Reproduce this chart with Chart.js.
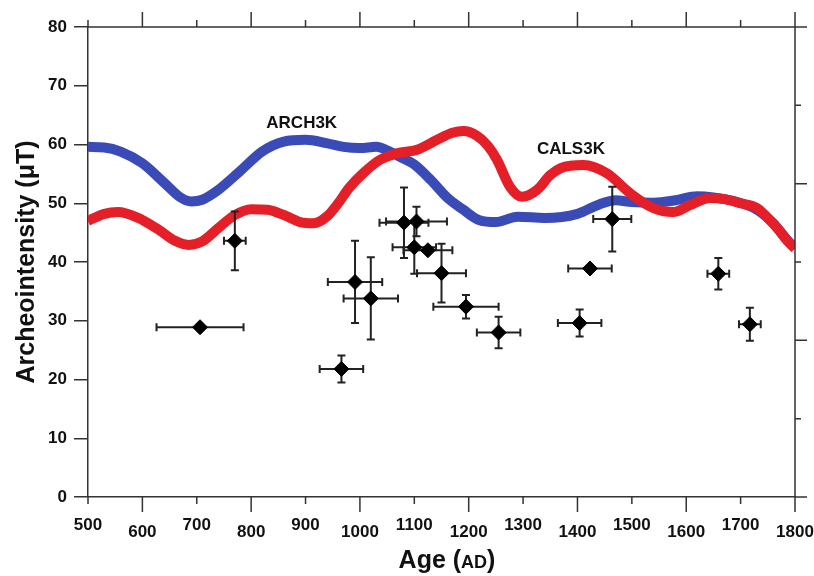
<!DOCTYPE html>
<html><head><meta charset="utf-8">
<script src="https://cdn.jsdelivr.net/npm/chart.js@4.4.1/dist/chart.umd.min.js"></script>
<style>html,body{margin:0;padding:0;background:#fff}canvas{display:block}</style>
</head><body>
<canvas id="c" width="814" height="576"></canvas>
<script>
// ---- data ----
const arch3kYears  = [500,530,560,600,640,670,690,710,740,780,820,860,900,940,970,1000,1030,1055,1080,1100,1130,1160,1190,1220,1250,1290,1340,1400,1440,1470,1500,1540,1580,1620,1650,1690,1730,1760,1785,1800];
const arch3kValues = [59.6,59.5,58.8,56.8,53.5,51.0,50.3,50.6,52.3,55.5,58.8,60.5,60.8,60.2,59.6,59.4,59.6,58.8,57.6,56.6,54.0,51.0,48.9,47.1,46.8,47.7,47.5,48.2,49.8,50.5,50.2,50.1,50.5,51.2,51.0,50.3,48.9,46.6,43.8,42.4];
const cals3kYears  = [500,530,555,590,630,660,685,710,740,770,800,830,860,890,915,940,960,980,1006,1037,1068,1105,1142,1170,1190,1215,1235,1252,1276,1298,1326,1350,1370,1411,1454,1497,1539,1576,1607,1644,1670,1700,1730,1750,1770,1785,1800];
const cals3kValues = [47.0,48.2,48.5,47.6,45.5,43.6,42.9,43.5,45.8,48.0,49.0,48.9,48.0,46.8,46.6,47.8,50.0,52.6,55.1,57.4,58.5,59.1,60.8,62.0,62.3,61.5,59.8,57.4,52.8,51.1,52.3,54.8,56.0,56.5,55.1,51.7,49.2,48.5,49.7,50.9,50.7,50.0,49.2,47.5,45.5,43.7,42.3];

const sampleAges            = [706, 770, 966, 991, 1020, 1081, 1104, 1100, 1125, 1150, 1195, 1255, 1404, 1423, 1464, 1659, 1717];
const sampleIntensities     = [28.9, 43.6, 21.8, 36.6, 33.8, 46.7, 46.9, 42.5, 42.0, 38.1, 32.4, 28.0, 29.6, 38.9, 47.3, 38.0, 29.4];
const sampleAgeErrors       = [80, 20, 40, 50, 50, 45, 56, 40, 45, 45, 60, 40, 40, 40, 35, 20, 20];
const sampleIntensityErrors = [0, 5, 2.3, 7, 7, 6, 2.5, 4.5, 0, 5, 2, 2.7, 2.3, 0, 5.5, 2.7, 2.8];

const xTickValues = [500,600,700,800,900,1000,1100,1200,1300,1400,1500,1600,1700,1800];
const xTickLabels = ['500','600','700','800','900','1000','1100','1200','1300','1400','1500','1600','1700','1800'];
const rightTickValues = [0,1,2,3,4,5,6];

const curveLabels      = ['ARCH3K', 'CALS3K'];
const curveLabelAges   = [893, 1388];
const curveLabelValues = [63.6, 59.2];

// ---- styles ----
const AXIS = '#333';
const tickFont = "bold 17px 'Liberation Sans Narrow', 'Liberation Sans', Arial, sans-serif";
const titleFamily = "'Liberation Sans', Arial, sans-serif";

const pts = (xs, ys) => xs.map((x, i) => ({x: x, y: ys[i]}));

const decor = {
  id: 'decor',
  beforeDatasetDraw(chart, args) {
    if (args.index !== 2) return;
    const ctx = chart.ctx, xs = chart.scales.x, ys = chart.scales.y;
    ctx.save();
    ctx.strokeStyle = '#222';
    ctx.lineWidth = 2;
    const cap = 4;
    sampleAges.forEach((a, i) => {
      const v = sampleIntensities[i];
      const px = xs.getPixelForValue(a), py = ys.getPixelForValue(v);
      const dx = sampleAgeErrors[i], dy = sampleIntensityErrors[i];
      ctx.beginPath();
      if (dx > 0) {
        const x1 = xs.getPixelForValue(a - dx), x2 = xs.getPixelForValue(a + dx);
        ctx.moveTo(x1, py); ctx.lineTo(x2, py);
        ctx.moveTo(x1, py - cap); ctx.lineTo(x1, py + cap);
        ctx.moveTo(x2, py - cap); ctx.lineTo(x2, py + cap);
      }
      if (dy > 0) {
        const y1 = ys.getPixelForValue(v - dy), y2 = ys.getPixelForValue(v + dy);
        ctx.moveTo(px, y1); ctx.lineTo(px, y2);
        ctx.moveTo(px - cap, y1); ctx.lineTo(px + cap, y1);
        ctx.moveTo(px - cap, y2); ctx.lineTo(px + cap, y2);
      }
      ctx.stroke();
    });
    ctx.restore();
  },
  afterDraw(chart) {
    const ctx = chart.ctx, xs = chart.scales.x, ys = chart.scales.y, y2 = chart.scales.y2;
    const a = chart.chartArea;
    ctx.save();
    ctx.strokeStyle = AXIS;
    ctx.lineWidth = 1.5;
    // top and right frame
    ctx.beginPath();
    ctx.moveTo(a.left, a.top); ctx.lineTo(a.right, a.top);
    ctx.moveTo(a.right, a.top); ctx.lineTo(a.right, a.bottom);
    ctx.stroke();
    // top & bottom ticks
    ctx.beginPath();
    xTickValues.forEach(v => {
      const px = xs.getPixelForValue(v);
      const long = (v / 100) % 2 === 0;
      const L = long ? 15 : 7;
      ctx.moveTo(px, a.bottom); ctx.lineTo(px, a.bottom + L);
      ctx.moveTo(px, a.top); ctx.lineTo(px, a.top - L);
    });
    // right ticks
    rightTickValues.forEach(v => {
      const py = y2.getPixelForValue(v);
      const L = v % 2 === 0 ? 12 : 6;
      ctx.moveTo(a.right, py); ctx.lineTo(a.right + L, py);
    });
    ctx.stroke();
    // x tick labels (staggered)
    ctx.fillStyle = '#111';
    ctx.font = tickFont;
    ctx.textAlign = 'center';
    ctx.textBaseline = 'alphabetic';
    xTickValues.forEach((v, i) => {
      const px = xs.getPixelForValue(v);
      const low = (v / 100) % 2 === 0;
      ctx.fillText(xTickLabels[i], px, low ? 537 : 530);
    });
    // x title "Age (AD)" with small caps
    const big = 'bold 25px ' + titleFamily, small = 'bold 18px ' + titleFamily;
    const parts = [['Age (', big], ['AD', small], [')', big]];
    let total = 0;
    parts.forEach(p => { ctx.font = p[1]; total += ctx.measureText(p[0]).width; });
    let x = 447 - total / 2;
    ctx.textAlign = 'left';
    parts.forEach(p => { ctx.font = p[1]; ctx.fillText(p[0], x, 568); x += ctx.measureText(p[0]).width; });
    // curve labels
    ctx.font = 'bold 17px ' + titleFamily;
    ctx.textAlign = 'center';
    ctx.textBaseline = 'middle';
    curveLabels.forEach((t, i) => {
      ctx.fillText(t, xs.getPixelForValue(curveLabelAges[i]), ys.getPixelForValue(curveLabelValues[i]));
    });
    ctx.restore();
  }
};

new Chart(document.getElementById('c'), {
  type: 'line',
  data: {
    datasets: [
      { label: 'ARCH3K', data: pts(arch3kYears, arch3kValues), borderColor: '#3a4ab6', borderWidth: 10,
        pointRadius: 0, fill: false, cubicInterpolationMode: 'monotone', order: 2 },
      { label: 'CALS3K', data: pts(cals3kYears, cals3kValues), borderColor: '#e41f28', borderWidth: 10,
        pointRadius: 0, fill: false, cubicInterpolationMode: 'monotone', order: 1 },
      { type: 'scatter', label: 'Samples', data: pts(sampleAges, sampleIntensities), showLine: false,
        pointStyle: 'rectRot', pointRadius: 7.5, pointBackgroundColor: '#000', pointBorderColor: '#000',
        pointBorderWidth: 1, order: 0 }
    ]
  },
  options: {
    responsive: false,
    animation: false,
    devicePixelRatio: 1,
    layout: { padding: { top: 27, right: 19, left: 0, bottom: 0 } },
    plugins: { legend: { display: false }, tooltip: { enabled: false } },
    scales: {
      x: {
        type: 'linear', min: 500, max: 1800, position: 'bottom',
        grid: { display: false }, ticks: { display: false },
        border: { display: true, color: AXIS, width: 1.5 },
        afterFit(s) { s.height = 79; }
      },
      y: {
        type: 'linear', min: 0, max: 80, position: 'left',
        ticks: { stepSize: 10, color: '#111', padding: 7,
                 font: { family: "'Liberation Sans Narrow', 'Liberation Sans', Arial, sans-serif", size: 17, weight: 'bold' } },
        grid: { drawOnChartArea: false, drawTicks: true, tickLength: 14, color: AXIS, lineWidth: 1.5 },
        border: { display: true, color: AXIS, width: 1.5 },
        title: { display: true, text: 'Archeointensity (μT)', color: '#111',
                 font: { family: "'Liberation Sans', Arial, sans-serif", size: 25, weight: 'bold' },
                 padding: { top: 12, bottom: 0 } },
        afterFit(s) { s.width = 88; }
      },
      y2: { type: 'linear', min: 0, max: 6, position: 'right', display: false }
    }
  },
  plugins: [decor]
});
</script>
</body></html>
